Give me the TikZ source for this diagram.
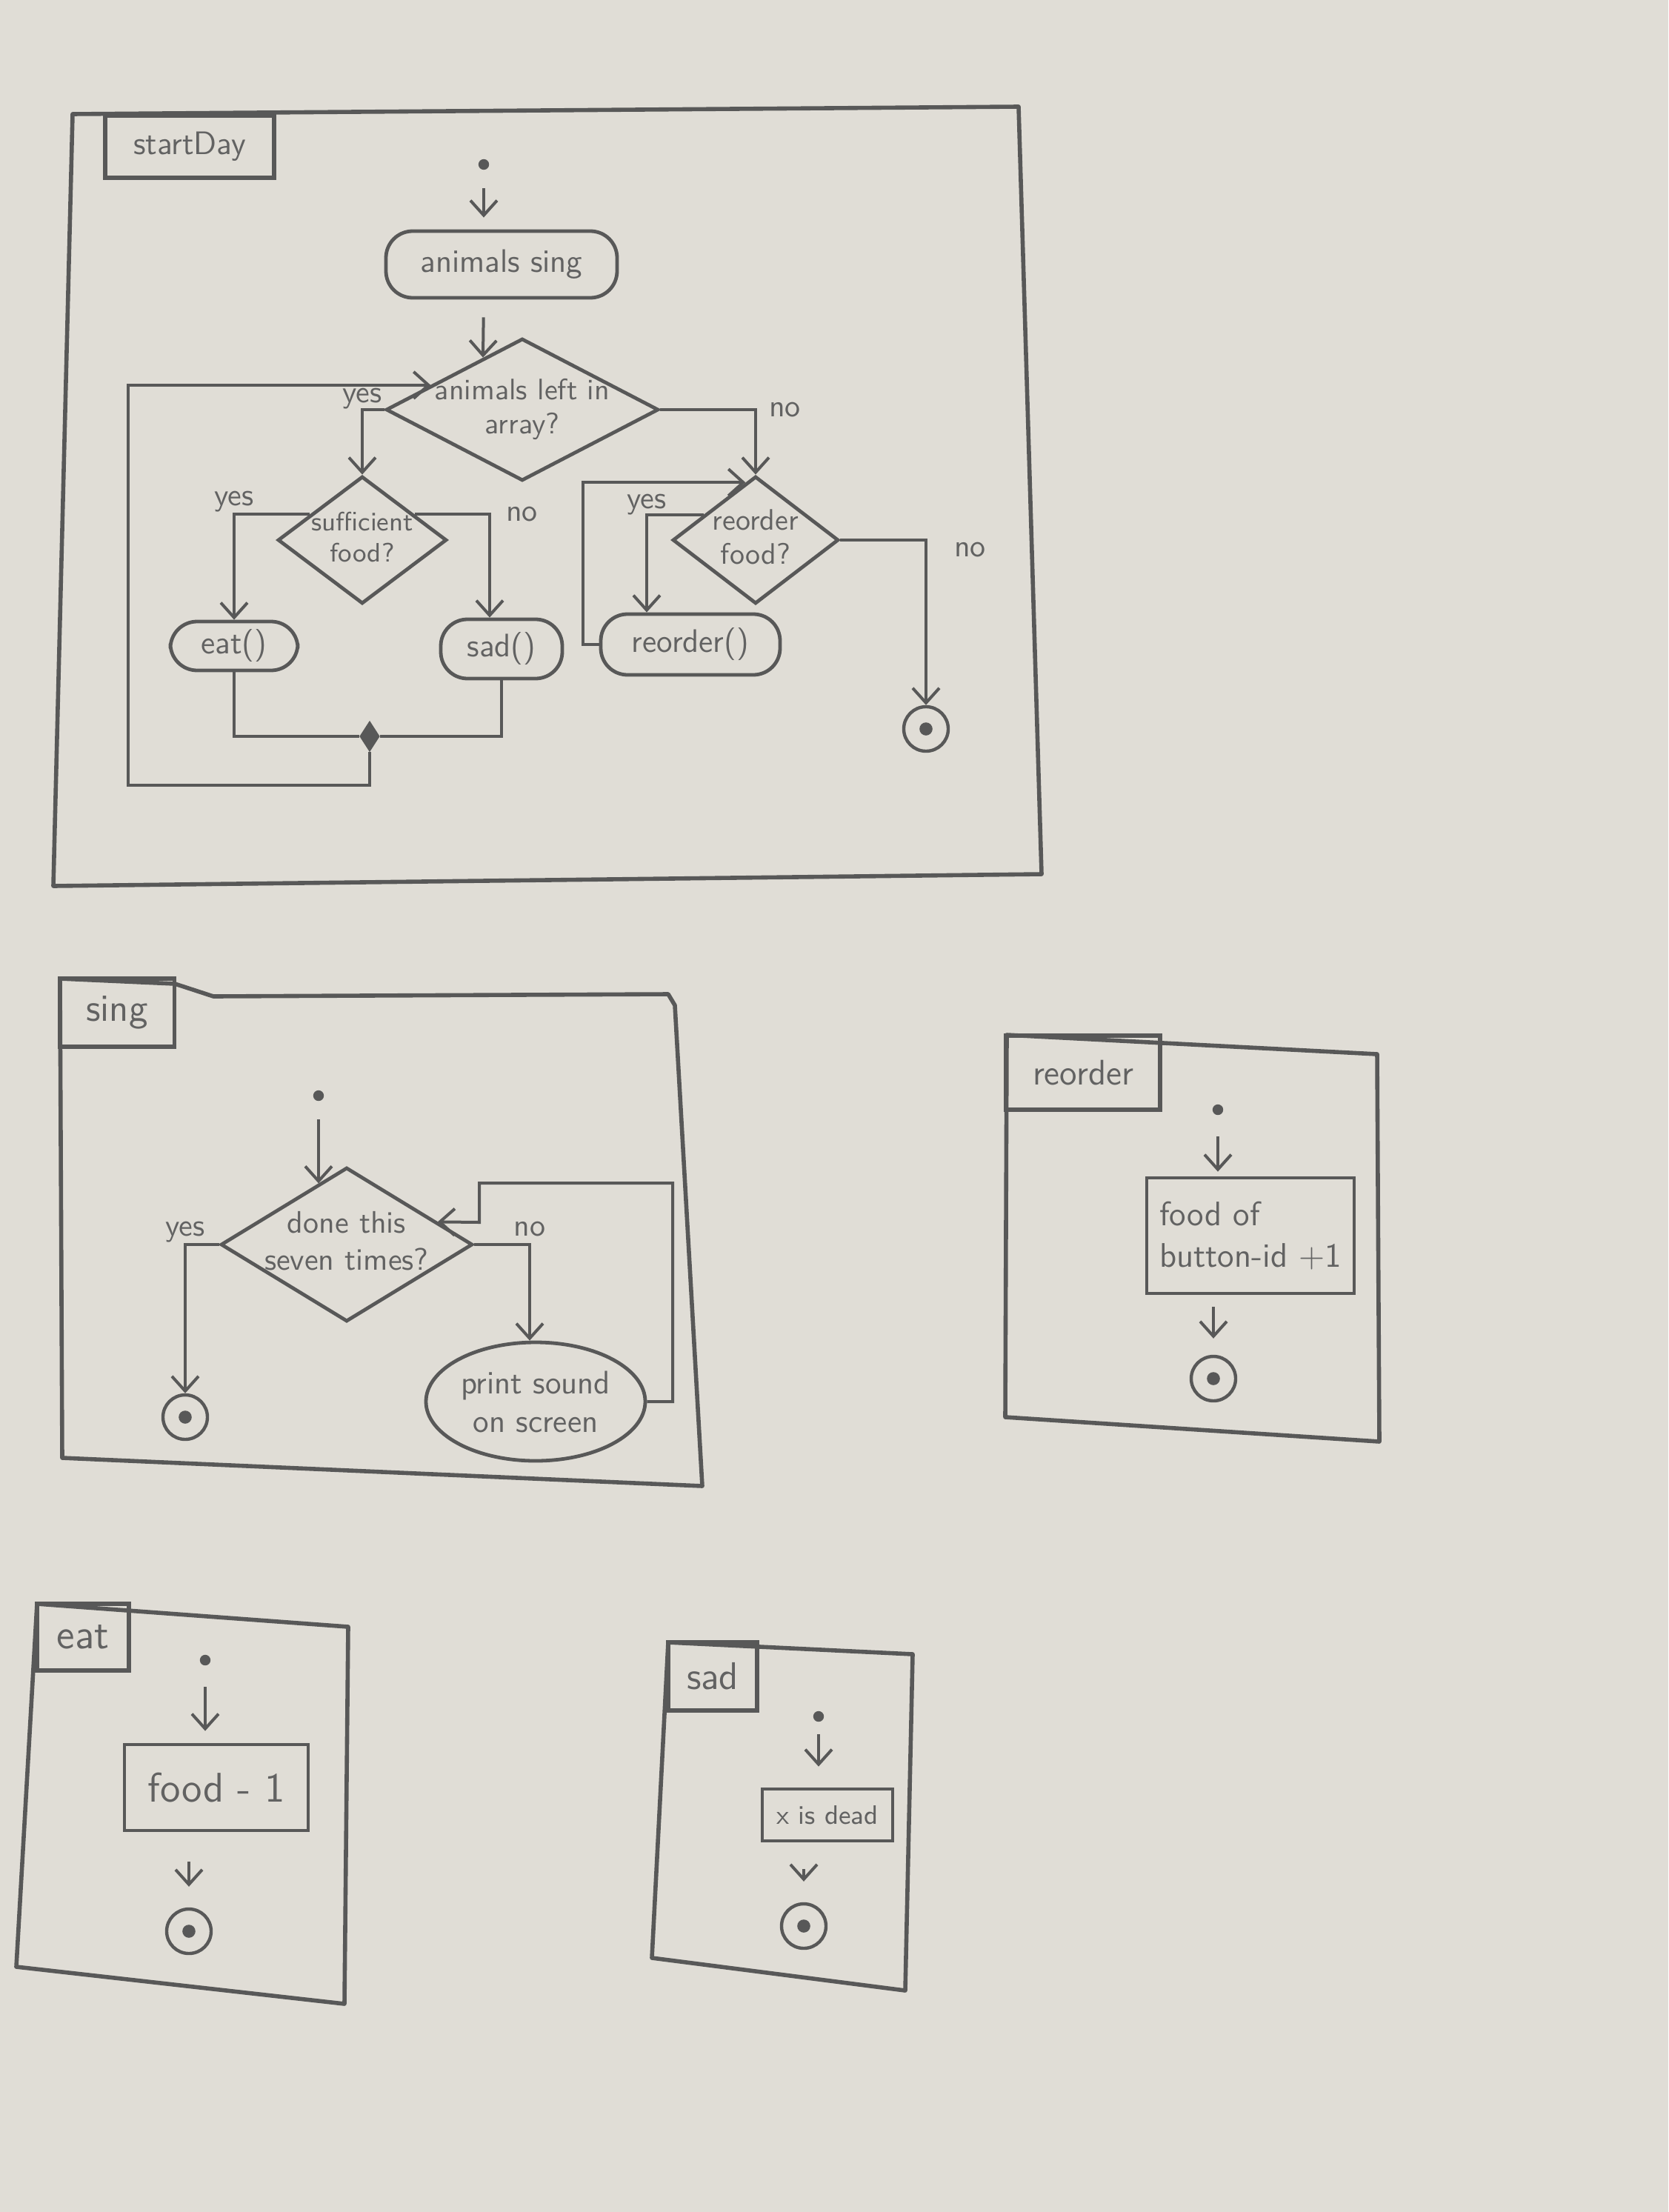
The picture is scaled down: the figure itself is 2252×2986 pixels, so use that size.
\documentclass[tikz,border=0pt]{standalone}
\usepackage{fontspec}
\usetikzlibrary{shapes.geometric,arrows.meta,calc}
\definecolor{paper}{RGB}{224,221,214}
\definecolor{pencil}{RGB}{88,88,88}
\definecolor{ink}{RGB}{98,98,98}
\newcommand{\zt}[1]{\makebox[0pt]{\smash{\raisebox{-0.25em}{\begin{tabular}{@{}c@{}}#1\end{tabular}}}}}
\tikzset{
  frame/.style={draw=pencil, line width=1.4pt, line join=round},
  tabbox/.style={draw=pencil, line width=1.3pt, rectangle, inner sep=0pt, text=ink},
  action/.style={draw=pencil, line width=1.2pt, rectangle, rounded corners=9pt, inner sep=1pt, text=ink},
  procbox/.style={draw=pencil, line width=1.2pt, rectangle, inner sep=1pt, text=ink},
  oval/.style={draw=pencil, line width=1.2pt, ellipse, inner sep=0pt, text=ink, align=center},
  decision/.style={draw=pencil, line width=1.2pt, diamond, inner sep=0pt, text=ink},
  startdot/.style={circle, fill=pencil, minimum size=3.6pt, inner sep=0pt},
  final/.style={circle, draw=pencil, line width=1.1pt, minimum size=15pt, inner sep=0pt,
    path picture={\fill[pencil] (path picture bounding box.center) circle (2.2pt);}},
  merge/.style={diamond, draw=pencil, fill=pencil, minimum width=6.5pt, minimum height=10pt, inner sep=0pt},
  flow/.style={draw=pencil, line width=1pt, -{Straight Barb[length=5pt,width=9pt]}},
  joinline/.style={draw=pencil, line width=1pt},
  lbl/.style={text=ink, inner sep=1pt, font=\sffamily\fontsize{10.5}{12}\selectfont},
}
\begin{document}
\begin{tikzpicture}[x=0.25pt,y=-0.25pt,font=\sffamily\fontsize{11}{13}\selectfont]
\fill[paper] (0,0) rectangle (2252,2986);
\useasboundingbox (0,0) rectangle (2252,2986);

% ================= startDay =================
\draw[frame] (98,154) -- (1375,144) -- (1406,1180) -- (72,1196) -- cycle;
\node[tabbox, minimum width=57pt, minimum height=21pt] (tabA) at (256,198) {startDay};
\node[startdot] (a0) at (653,222) {};
\node[action, minimum width=78pt, minimum height=22.5pt] (asing) at (677,357) {animals sing};
\node[decision, minimum width=92pt, minimum height=48pt, font=\sffamily\fontsize{10}{11.5}\selectfont] (arr) at (705,553) {\zt{animals left in\\array?}};
\node[decision, minimum width=57pt, minimum height=43pt, font=\sffamily\fontsize{9}{10.5}\selectfont] (suf) at (489,729) {\zt{sufficient\\food?}};
\node[action, minimum width=43pt, minimum height=16.5pt] (eat) at (316,872) {eat()};
\node[action, minimum width=41pt, minimum height=20pt] (sad) at (677,876) {sad()};
\node[merge] (mg) at (499,994) {};
\node[decision, minimum width=56pt, minimum height=43pt, font=\sffamily\fontsize{10}{11.5}\selectfont] (rf) at (1020,729) {\zt{reorder\\food?}};
\node[action, minimum width=60.5pt, minimum height=20.5pt] (rd) at (932,870) {reorder()};
\node[final] (fA) at (1250,984) {};
\coordinate (loopA) at (173,1060);

\draw[flow, shorten <=6pt, shorten >=4pt] (a0) -- (a0 |- asing.north);
\draw[flow, shorten <=6pt] (a0 |- asing.south) -- (arr.127);
\draw[flow] (mg.south) |- (loopA) |- (arr.165);
\draw[flow] (arr.west) -| node[lbl, pos=0.5, anchor=base, yshift=2.5pt]{yes} (suf.north);
\draw[flow] (suf.154) -| node[lbl, pos=0.5, anchor=base, yshift=3pt]{yes} (eat.north);
\draw[flow] (suf.26) -| node[lbl, pos=0.5, anchor=west, xshift=4pt]{no} ([xshift=-4pt]sad.north);
\draw[joinline] (eat.south) |- (mg.west);
\draw[joinline] (sad.south) |- (mg.east);
\draw[flow] (arr.east) -| node[lbl, pos=0.5, anchor=west, xshift=3pt]{no} (rf.north);
\draw[flow] (rf.154) -| node[lbl, pos=0.5, anchor=base, yshift=2pt]{yes} ([xshift=-14.75pt]rd.north);
\draw[flow] (rd.west) -- ++(-22,0) |- (rf.100);
\draw[flow] (rf.east) -| node[lbl, pos=0.53, anchor=west, xshift=8pt]{no} (fA.north);

% ================= sing =================
\draw[frame] (81,1321) -- (236,1328) -- (288,1345) -- (902,1342) -- (911,1357) -- (948,2006) -- (84,1968) -- cycle;
\node[tabbox, minimum width=38.75pt, minimum height=23pt, font=\sffamily\fontsize{13}{15}\selectfont] (tabB) at (158,1367) {sing};
\node[startdot] (b0) at (430,1479) {};
\node[decision, minimum width=85pt, minimum height=52pt, font=\sffamily\fontsize{10.5}{12.5}\selectfont] (dn) at (468,1680) {\zt{done this\\seven times?}};
\node[final] (fB) at (250,1913) {};
\node[oval, minimum width=74pt, minimum height=40pt] (ps) at (723,1892) {print sound\\on screen};

\draw[flow, shorten <=6pt] (b0) -- (b0 |- dn.115);
\draw[flow] (dn.west) -| node[lbl, pos=0.5, anchor=base, yshift=3pt]{yes} (fB.north);
\draw[flow] (dn.east) -| node[lbl, pos=0.5, anchor=base, yshift=3pt]{no} ([xshift=-2pt]ps.north);
\draw[flow] (ps.east) -| (908,1597) -| (647,1650) -- (dn.14);

% ================= reorder =================
\draw[frame] (1359,1397) -- (1859,1423) -- (1862,1946) -- (1357,1913) -- cycle;
\node[tabbox, minimum width=52pt, minimum height=25pt, font=\sffamily\fontsize{12}{14}\selectfont] (tabC) at (1462,1448) {reorder};
\node[startdot] (c0) at (1644,1498) {};
\node[procbox, minimum width=70pt, minimum height=39pt, align=left, font=\sffamily\fontsize{11.5}{14}\selectfont] (fo) at (1688,1668) {food of\\button-id +1};
\node[final] (fC) at (1638,1861) {};
\draw[flow, shorten <=7pt, shorten >=1.5pt] (c0) -- (c0 |- fo.north);
\draw[flow, shorten <=4pt, shorten >=5.5pt] (fC |- fo.south) -- (fC.north);

% ================= eat =================
\draw[frame] (50,2165) -- (470,2196) -- (465,2705) -- (22,2655) -- cycle;
\node[tabbox, minimum width=31pt, minimum height=22.5pt, font=\sffamily\fontsize{14}{16}\selectfont] (tabD) at (112,2210) {eat};
\node[startdot] (d0) at (277,2241) {};
\node[procbox, minimum width=62pt, minimum height=29pt, font=\sffamily\fontsize{14}{16}\selectfont] (fm) at (292,2413) {food - 1};
\node[final] (fD) at (255,2607) {};
\draw[flow, shorten <=7pt, shorten >=4pt] (d0) -- (d0 |- fm.north);
\draw[flow, shorten <=10pt, shorten >=7pt] (fD |- fm.south) -- (fD.north);

% ================= sad =================
\draw[frame] (902,2217) -- (1232,2233) -- (1222,2687) -- (880,2643) -- cycle;
\node[tabbox, minimum width=30pt, minimum height=23pt, font=\sffamily\fontsize{13}{15}\selectfont] (tabE) at (962,2263) {sad};
\node[startdot] (e0) at (1105,2317) {};
\node[procbox, minimum width=44pt, minimum height=17.5pt, font=\sffamily\fontsize{9}{10}\selectfont] (xd) at (1117,2450) {x is dead};
\node[final] (fE) at (1085,2600) {};
\draw[flow, shorten <=4pt, shorten >=7pt] (e0) -- (e0 |- xd.north);
\draw[flow, shorten <=9pt, shorten >=7pt] (fE |- xd.south) -- (fE.north);
\end{tikzpicture}
\end{document}
